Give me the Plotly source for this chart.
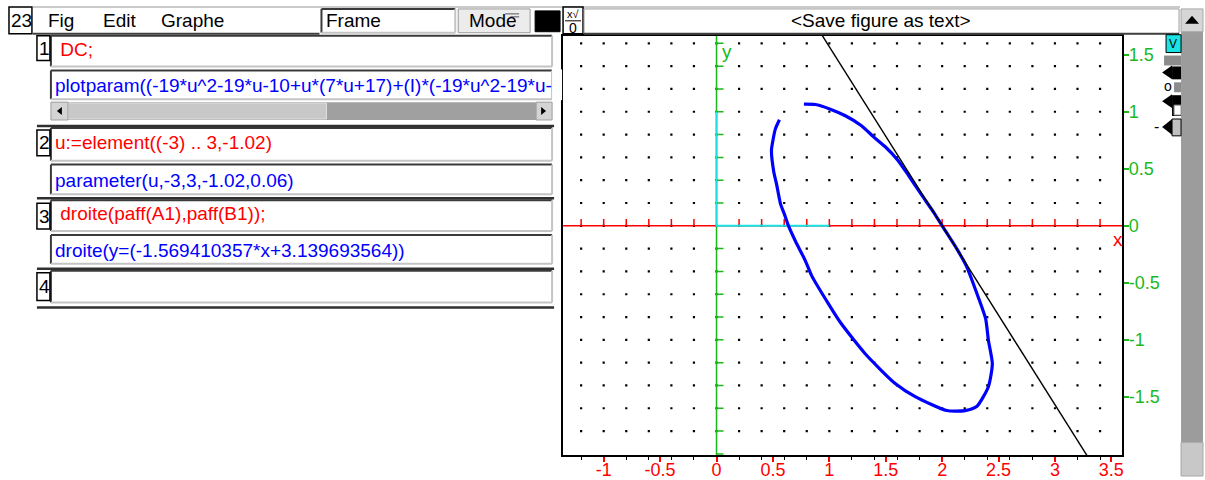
import plotly.graph_objects as go

W, H = 1205, 480

# ---------------- data ----------------
curve_x = [0.558, 0.522, 0.498, 0.487, 0.507, 0.534, 0.566, 0.604, 0.640, 0.699,
           0.788, 0.843, 0.994, 1.097, 1.318, 1.584, 1.761, 2.041, 2.204, 2.306,
           2.410, 2.445, 2.410, 2.386, 2.321, 2.215, 2.125, 2.000, 1.925, 1.815,
           1.700, 1.605, 1.496, 1.392, 1.285, 1.142, 1.009, 0.876, 0.775]
curve_y = [0.930, 0.850, 0.737, 0.661, 0.476, 0.357, 0.197, 0.096, -0.005, -0.133,
           -0.307, -0.437, -0.687, -0.846, -1.122, -1.383, -1.498, -1.620, -1.620, -1.585,
           -1.411, -1.209, -1.003, -0.817, -0.628, -0.353, -0.194, 0.000, 0.118, 0.275,
           0.445, 0.578, 0.693, 0.780, 0.878, 0.965, 1.023, 1.064, 1.067]
line_slope = -1.569410357
line_intercept = 3.139693564

x_range = [-1.3602, 3.5956]
y_range = [-2.0139, 1.667]
xtick_vals = [-1, -0.5, 0, 0.5, 1, 1.5, 2, 2.5, 3, 3.5]
xtick_text = ["-1", "-0.5", "0", "0.5", "1", "1.5", "2", "2.5", "3", "3.5"]
ytick_vals = [-1.5, -1, -0.5, 0, 0.5, 1, 1.5]
ytick_text = ["-1.5", "-1", "-0.5", "0", "0.5", "1", "1.5"]
grid_x = [round(-1.2 + 0.2 * i, 1) for i in range(24)]   # -1.2 .. 3.4
grid_y = [round(-1.8 + 0.2 * i, 1) for i in range(18)]   # -1.8 .. 1.6

menu_items = ["Fig", "Edit", "Graphe"]
level_numbers = ["1", "2", "3", "4"]
inputs = [" DC;", "u:=element((-3) .. 3,-1.02)", " droite(paff(A1),paff(B1));", ""]
outputs = ["plotparam((-19*u^2-19*u-10+u*(7*u+17)+(I)*(-19*u^2-19*u-",
           "parameter(u,-3,3,-1.02,0.06)",
           "droite(y=(-1.569410357*x+3.139693564))"]

RED = "#ff0000"
GREEN = "#1cb81c"
CYAN = "#19e3e3"
BLUE = "#0000ff"
FONT = "Liberation Sans, Arial, sans-serif"

# ---------------- helpers (pixel -> paper) ----------------
shapes = []
annotations = []


def X(px):
    return px / W


def Y(py):
    return 1 - py / H


def rect(x0, y0, x1, y1, fill="white", line=None, lw=1):
    shapes.append(dict(type="rect", xref="paper", yref="paper",
                       x0=X(x0), x1=X(x1), y0=Y(y1), y1=Y(y0),
                       fillcolor=fill,
                       line=dict(color=line if line else fill, width=lw if line else 0)))


def seg(x0, y0, x1, y1, color, w):
    shapes.append(dict(type="line", xref="paper", yref="paper",
                       x0=X(x0), y0=Y(y0), x1=X(x1), y1=Y(y1),
                       line=dict(color=color, width=w)))


def sunken(x0, y0, x1, y1):
    rect(x0, y0, x1, y1, "white")
    seg(x0, y0, x1, y0, "#3a3a3a", 2)
    seg(x0, y0, x0, y1, "#3a3a3a", 2)
    seg(x0, y1, x1, y1, "#c4c4c4", 2)
    seg(x1, y0, x1, y1, "#c4c4c4", 2)


def txt(px, py, s, color="black", size=19, anchor="left"):
    annotations.append(dict(xref="paper", yref="paper", x=X(px), y=Y(py), text=s,
                            showarrow=False, xanchor=anchor, yanchor="middle",
                            borderpad=0,
                            font=dict(family=FONT, size=size, color=color)))


def tri(points, color="black"):
    path = "M " + " L ".join(f"{X(a)},{Y(b)}" for a, b in points) + " Z"
    shapes.append(dict(type="path", xref="paper", yref="paper", path=path,
                       fillcolor=color, line=dict(color=color, width=0)))


# ---------------- GUI: top bar ----------------
rect(9, 7, 32, 34, "white", "black", 1.5)
txt(10, 21, "23")
rect(33, 7, 320, 34, "white")
seg(33, 7, 1182, 7, "#b8b8b8", 1.5)
seg(33, 34, 320, 34, "#404040", 2)
for name, px in zip(menu_items, [47, 102, 160]):
    txt(px, 21, name)
sunken(322, 9, 456, 33)
txt(326, 21, "Frame")
rect(459, 9, 531, 33, "#ececec", "#9a9a9a", 1)
txt(469, 21, "Mode")
seg(506, 14, 520, 14, "#555555", 1)
seg(511, 17, 520, 17, "#555555", 1)
rect(536, 11, 561, 32, "black", "black", 1)
# small icon
rect(564, 7, 584, 34, "white", "black", 1.5)
txt(574, 14, "x√", size=11, anchor="center")
seg(566, 21, 582, 21, "black", 1)
txt(574, 28, "0", size=14, anchor="center")
# save bar
rect(585, 9, 1181, 34, "white", "#9a9a9a", 1)
seg(585, 34, 1181, 34, "#404040", 2)
txt(882, 21, "&lt;Save figure as text&gt;", anchor="center")

# right scrollbar
rect(1183, 9, 1205, 480, "#9c9c9c")
rect(1183, 9, 1205, 32, "#d6d6d6", "#a8a8a8", 1)
tri([(1187, 24), (1201, 24), (1194, 16)])
rect(1183, 446, 1205, 480, "#c8c8c8", "#a8a8a8", 1)

# small widgets next to the graph
rect(1168, 35, 1183, 53, CYAN, "black", 1)
txt(1175, 44, "V", size=12, anchor="center")
rect(1166, 56, 1183, 66, "#8c8c8c")
tri([(1164, 73), (1174, 66), (1174, 80)])
rect(1174, 67, 1183, 80, "black")
txt(1170, 87, "o", size=14, anchor="center")
rect(1176, 83, 1183, 93, "#8c8c8c")
tri([(1164, 102), (1174, 95), (1174, 109)])
rect(1174, 96, 1183, 117, "black")
rect(1176, 106, 1183, 116, "white", "#8c8c8c", 1)
txt(1158, 128, "-", size=16, anchor="center")
tri([(1164, 128), (1174, 120), (1174, 136)])
rect(1174, 120, 1183, 137, "#c0c0c0", "black", 1)

# ---------------- GUI: left history panel ----------------
row_in = [(36, 67), (129, 162), (202, 233), (273, 305)]
row_out = [(71, 100), (166, 196), (237, 266)]
num_box = [(36, 61), (131, 157), (205, 231), (275, 303)]
separators = [127, 200, 271, 310]

for i, num in enumerate(level_numbers):
    y0, y1 = row_in[i]
    sunken(51, y0, 553, y1)
    b0, b1 = num_box[i]
    rect(37, b0, 50, b1, "white", "black", 1.5)
    txt(38, (b0 + b1) / 2, num)
    if inputs[i]:
        txt(54, (y0 + y1) / 2 - 2, inputs[i].replace(" ", "&nbsp;"), RED)
for i, s in enumerate(outputs):
    y0, y1 = row_out[i]
    sunken(51, y0, 553, y1)
    txt(54, (y0 + y1) / 2 + 1, s, BLUE)
# cover the overflowing part of the long output line
rect(553, 70, 563, 101, "white")
for sy in separators:
    seg(37, sy, 555, sy, "#303030", 2.5)

# horizontal scrollbar of row 1
rect(51, 103, 553, 121, "#a0a0a0")
rect(68, 104, 327, 120, "#c8c8c8", "#e0e0e0", 1)
rect(51, 103, 68, 121, "#d4d4d4", "#a0a0a0", 1)
tri([(57, 112), (62, 108), (62, 116)])
rect(537, 103, 553, 121, "#d4d4d4", "#a0a0a0", 1)
tri([(547, 112), (542, 108), (542, 116)])

# ---------------- plot traces ----------------
fig = go.Figure()

dots_x = [gx for gy in grid_y for gx in grid_x]
dots_y = [gy for gy in grid_y for gx in grid_x]
fig.add_trace(go.Scatter(x=dots_x, y=dots_y, mode="markers",
                         marker=dict(symbol="square", size=2.2, color="black",
                                     line=dict(width=0)),
                         hoverinfo="skip"))

# x axis (red) with small ticks
fig.add_trace(go.Scatter(x=x_range, y=[0, 0], mode="lines",
                         line=dict(color=RED, width=1.5), hoverinfo="skip"))
tx, ty = [], []
for gx in grid_x:
    if gx != 0:
        tx += [gx, gx, None]
        ty += [0, 0.06, None]
fig.add_trace(go.Scatter(x=tx, y=ty, mode="lines",
                         line=dict(color=RED, width=1.5), hoverinfo="skip"))

# y axis (green) with small ticks
fig.add_trace(go.Scatter(x=[0, 0], y=y_range, mode="lines",
                         line=dict(color=GREEN, width=1.5), hoverinfo="skip"))
gx_, gy_ = [], []
for gy in grid_y + [-2.0]:
    if gy != 0:
        gx_ += [0, 0.062, None]
        gy_ += [gy, gy, None]
fig.add_trace(go.Scatter(x=gx_, y=gy_, mode="lines",
                         line=dict(color=GREEN, width=1.5), hoverinfo="skip"))

# unit vectors (cyan)
fig.add_trace(go.Scatter(x=[1, 0, 0], y=[0, 0, 1], mode="lines",
                         line=dict(color=CYAN, width=2), hoverinfo="skip"))

# parametric curve
fig.add_trace(go.Scatter(x=curve_x, y=curve_y, mode="lines",
                         line=dict(color=BLUE, width=3.2, shape="spline", smoothing=0.6),
                         hoverinfo="skip"))

# tangent line
lx = x_range
ly = [line_slope * v + line_intercept for v in lx]
fig.add_trace(go.Scatter(x=lx, y=ly, mode="lines",
                         line=dict(color="black", width=1.4), hoverinfo="skip"))

annotations.append(dict(xref="x", yref="y", x=0.03, y=1.53, text="y", showarrow=False,
                        xanchor="left", yanchor="middle",
                        font=dict(family=FONT, size=19, color=GREEN)))
annotations.append(dict(xref="x", yref="y", x=3.56, y=-0.12, text="x", showarrow=False,
                        xanchor="center", yanchor="middle",
                        font=dict(family=FONT, size=19, color=RED)))

fig.update_layout(
    width=W, height=H, autosize=False,
    margin=dict(l=0, r=0, t=0, b=0, pad=0),
    paper_bgcolor="white", plot_bgcolor="white", showlegend=False,
    xaxis=dict(domain=[X(564), X(1124)], range=x_range, tickmode="array",
               tickvals=xtick_vals, ticktext=xtick_text,
               ticks="outside", ticklen=5, tickwidth=1.5, tickcolor=RED,
               tickfont=dict(family=FONT, size=18, color=RED),
               ticklabelstandoff=-8,
               showgrid=False, zeroline=False, showline=True, linecolor="black",
               linewidth=2, mirror=True, fixedrange=True,
               minor=dict(tickmode="array", tickvals=grid_x, ticks="outside",
                          ticklen=3, tickwidth=1, tickcolor="black", showgrid=False)),
    yaxis=dict(domain=[Y(459.3), Y(36)], range=y_range, side="right", tickmode="array",
               tickvals=ytick_vals, ticktext=ytick_text,
               ticks="outside", ticklen=5, tickwidth=1.5, tickcolor=GREEN,
               tickfont=dict(family=FONT, size=18, color=GREEN),
               ticklabelstandoff=-4,
               showgrid=False, zeroline=False, showline=True, linecolor="black",
               linewidth=2, mirror=True, fixedrange=True),
    shapes=shapes,
    annotations=annotations,
)

fig.write_html("out.html", config={"displayModeBar": False},
               post_script="document.body.style.margin='0';document.body.style.padding='0';"
                           "document.body.style.overflow='hidden';")
